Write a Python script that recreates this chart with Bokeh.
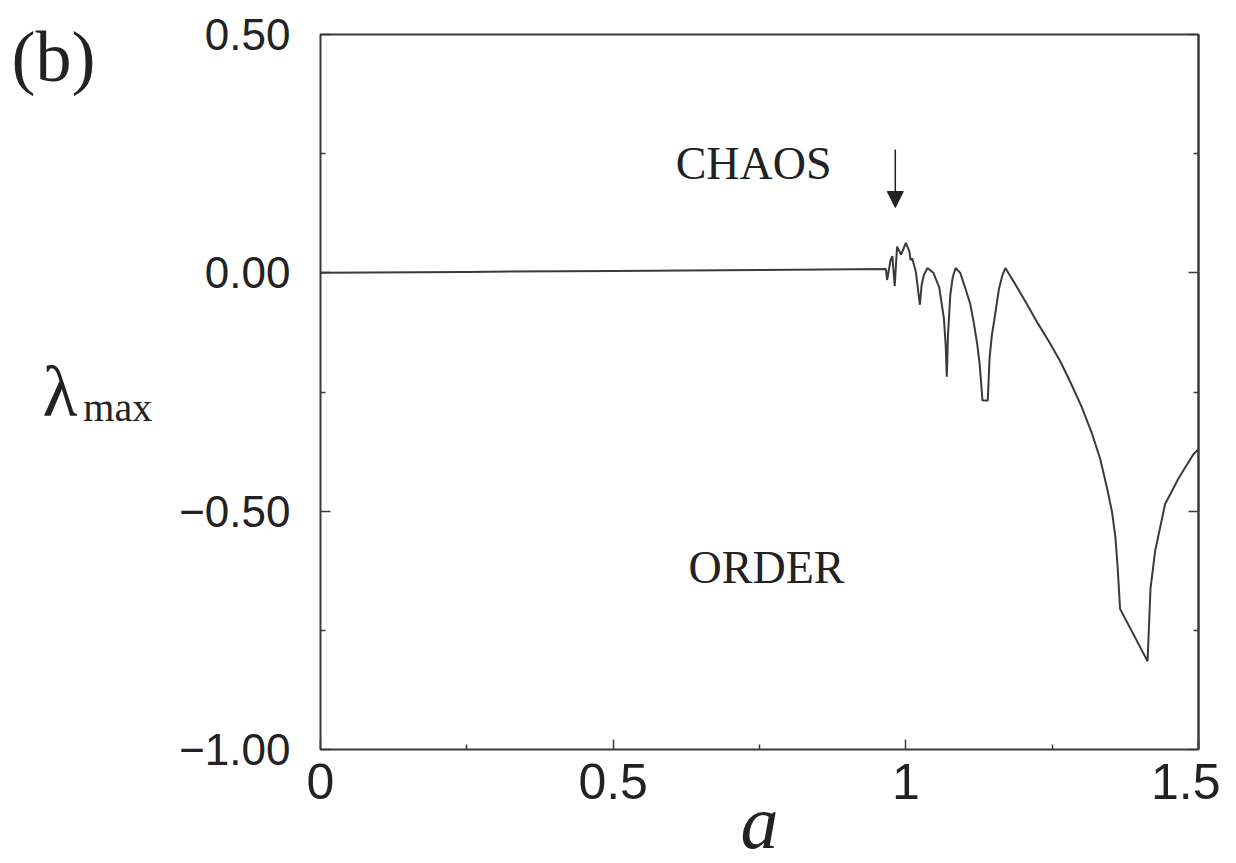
from bokeh.plotting import figure
from bokeh.models import (ColumnDataSource, Range1d, FixedTicker, LinearAxis, Label,
                          Arrow, NormalHead)
from bokeh.embed import file_html
from bokeh.resources import INLINE

# ---- data ----
a_vals = [0.0, 0.25, 0.5, 0.75, 0.966, 0.968, 0.974, 0.977, 0.981, 0.985, 0.992, 1.000,
          1.006, 1.008, 1.011, 1.017, 1.024, 1.027, 1.031, 1.037, 1.047, 1.057, 1.065,
          1.068, 1.070, 1.072, 1.076, 1.080, 1.085, 1.093, 1.102, 1.110, 1.116, 1.122,
          1.126, 1.131, 1.140, 1.143, 1.147, 1.151, 1.159, 1.165, 1.170, 1.185, 1.206,
          1.225, 1.244, 1.264, 1.281, 1.300, 1.318, 1.332, 1.344, 1.352, 1.358, 1.362,
          1.366, 1.413, 1.418, 1.426, 1.443, 1.466, 1.491, 1.500]
lam_max = [0.0, 0.002, 0.004, 0.006, 0.008, -0.015, 0.027, 0.035, -0.028, 0.055, 0.038, 0.063,
           0.045, 0.027, 0.030, 0.003, -0.067, -0.025, -0.004, 0.010, 0.000, -0.030, -0.095,
           -0.150, -0.218, -0.130, -0.046, -0.010, 0.010, 0.000, -0.034, -0.065, -0.104, -0.150,
           -0.190, -0.268, -0.268, -0.180, -0.130, -0.100, -0.034, -0.005, 0.010, -0.020, -0.064,
           -0.105, -0.143, -0.186, -0.229, -0.280, -0.337, -0.390, -0.453, -0.500, -0.554, -0.620,
           -0.705, -0.815, -0.662, -0.583, -0.485, -0.431, -0.381, -0.370]

x_ticks = [0.0, 0.5, 1.0, 1.5]
x_tick_labels = ["0", "0.5", "1", "1.5"]
x_minor = [0.25, 0.75, 1.25]
y_ticks = [-1.0, -0.5, 0.0, 0.5]
y_tick_labels = ["\u22121.00", "\u22120.50", "0.00", "0.50"]
y_minor = [-0.75, -0.25, 0.25]

INK = "#222222"
LINE = "#3a3a3a"
NB = "\u00a0"

p = figure(frame_width=878, frame_height=715,
           min_border_left=320, min_border_top=34, min_border_right=22, min_border_bottom=114,
           x_range=Range1d(0, 1.5), y_range=Range1d(-1.0, 0.5),
           output_backend="svg", toolbar_location=None)
p.grid.visible = False
p.outline_line_color = LINE
p.outline_line_width = 2
p.background_fill_color = "white"
p.border_fill_color = "white"

src = ColumnDataSource(dict(a=a_vals, lam=lam_max))
p.line("a", "lam", source=src, line_color=LINE, line_width=2)

def style_ticks(ax):
    ax.major_tick_in = 10
    ax.major_tick_out = 0
    ax.minor_tick_in = 5
    ax.minor_tick_out = 0
    ax.major_tick_line_color = LINE
    ax.minor_tick_line_color = LINE
    ax.major_tick_line_width = 1.5
    ax.minor_tick_line_width = 1.5

# bottom axis (label "a")
xa = p.xaxis[0]
xa.ticker = FixedTicker(ticks=x_ticks, minor_ticks=x_minor)
xa.major_label_overrides = {t: l for t, l in zip(x_ticks, x_tick_labels)}
style_ticks(xa)
xa.axis_line_color = None
xa.major_label_text_font = "Liberation Sans"
xa.major_label_text_font_size = "50px"
xa.major_label_text_color = INK
xa.major_label_standoff = 14
xa.axis_label = "a"
xa.axis_label_text_font = "Liberation Serif"
xa.axis_label_text_font_style = "italic"
xa.axis_label_text_font_size = "76px"
xa.axis_label_text_color = INK
xa.axis_label_standoff = -22

# left axis with tick labels and the subscript "max"
ya = p.yaxis[0]
ya.ticker = FixedTicker(ticks=y_ticks, minor_ticks=y_minor)
ya.major_label_overrides = {t: l for t, l in zip(y_ticks, y_tick_labels)}
style_ticks(ya)
ya.axis_line_color = None
ya.major_label_text_font = "Liberation Sans"
ya.major_label_text_font_size = "44px"
ya.major_label_text_color = INK
ya.major_label_standoff = 30
ya.axis_label = NB + "\nmax"
ya.axis_label_orientation = "horizontal"
ya.axis_label_text_font = "Liberation Serif"
ya.axis_label_text_font_style = "normal"
ya.axis_label_text_font_size = "40px"
ya.axis_label_text_line_height = 0.685
ya.axis_label_text_color = INK
ya.axis_label_standoff = 24

# outer left axis carrying the panel tag and the lambda symbol
la = LinearAxis(ticker=FixedTicker(ticks=[]), axis_line_color=None,
                major_tick_in=0, major_tick_out=0, minor_tick_in=0, minor_tick_out=0,
                major_label_standoff=0,
                axis_label="(b)\n\u03bb" + NB + "\n" + NB, axis_label_orientation="horizontal",
                axis_label_text_font="Liberation Serif", axis_label_text_font_style="normal",
                axis_label_text_font_size="72px", axis_label_text_color=INK,
                axis_label_text_line_height=4.19, axis_label_standoff=-15)
p.add_layout(la, "left")

# right axis: ticks only
ra = LinearAxis(ticker=FixedTicker(ticks=y_ticks, minor_ticks=y_minor),
                major_label_overrides={t: "" for t in y_ticks},
                axis_line_color=LINE, axis_line_width=2, major_label_standoff=0)
style_ticks(ra)
p.add_layout(ra, "right")

# in-frame annotations
for x, y, t in [(0.740, 0.230, "CHAOS"), (0.762, -0.619, "ORDER")]:
    p.add_layout(Label(x=x, y=y, text=t, text_font="Liberation Serif", text_font_size="46px",
                       text_color=INK, text_align="center", text_baseline="middle"))

p.add_layout(Arrow(end=NormalHead(size=16, fill_color=INK, line_color=INK),
                   x_start=0.982, y_start=0.259, x_end=0.982, y_end=0.137,
                   line_color=INK, line_width=1.5))

open("out.html", "w").write(file_html(p, INLINE))
